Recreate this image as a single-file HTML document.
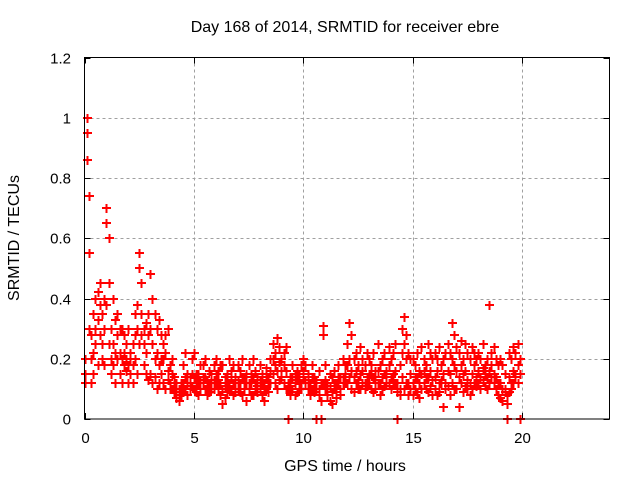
<!DOCTYPE html>
<html><head><meta charset="utf-8"><style>
body{margin:0;background:#fff}
svg text{font-family:"Liberation Sans",sans-serif;font-size:15px;fill:#000}
</style></head><body>
<svg id="chart" width="640" height="480" xmlns="http://www.w3.org/2000/svg">
<rect width="640" height="480" fill="#fff"/>
<text x="345" y="32" text-anchor="middle" style="font-size:16px">Day 168 of 2014, SRMTID for receiver ebre</text>
<text x="345" y="471" text-anchor="middle" style="font-size:16px">GPS time / hours</text>
<text transform="translate(19,238) rotate(-90)" text-anchor="middle" style="font-size:16px">SRMTID / TECUs</text>
<g id="grid"></g>
<g id="ticks"></g>
<g id="pts"></g>
<rect x="84.5" y="57.5" width="525" height="361.5" fill="none" stroke="#000" stroke-width="1"/>
</svg>
<script>
const xTicks=[0,5,10,15,20];
const yTicks=[0,0.2,0.4,0.6,0.8,1,1.2];
const yTickLabels=["0","0.2","0.4","0.6","0.8","1","1.2"];
const timeStep=0.1;
const srmtidA=[0.15,0.95,0.55,0.28,0.35,0.30,0.42,0.38,0.25,0.30,
0.70,0.60,0.30,0.25,0.33,0.28,0.22,0.30,0.18,0.25,
0.30,0.22,0.25,0.35,0.38,0.55,0.45,0.30,0.32,0.35,
0.48,0.40,0.35,0.30,0.33,0.28,0.25,0.22,0.30,0.18,
0.15,0.12,0.10,0.08,0.12,0.18,0.22,0.15,0.14,0.20,
0.22,0.15,0.12,0.18,0.14,0.20,0.13,0.16,0.12,0.18,
0.20,0.16,0.12,0.18,0.14,0.12,0.20,0.16,0.18,0.14,
0.18,0.16,0.20,0.14,0.12,0.18,0.15,0.20,0.16,0.14,
0.18,0.15,0.12,0.17,0.14,0.20,0.25,0.22,0.27,0.24,
0.20,0.22,0.24,0.0,0.14,0.18,0.15,0.16,0.12,0.18,
0.20,0.18,0.15,0.12,0.18,0.14,0.0,0.16,0.0,0.31,
0.18,0.12,0.15,0.14,0.16,0.12,0.18,0.14,0.20,0.18,
0.25,0.32,0.28,0.20,0.22,0.18,0.24,0.20,0.18,0.22,
0.20,0.18,0.22,0.16,0.25,0.18,0.20,0.22,0.16,0.24,
0.20,0.22,0.25,0.0,0.18,0.30,0.34,0.28,0.22,0.20,
0.20,0.18,0.22,0.16,0.24,0.20,0.18,0.25,0.22,0.20,
0.22,0.20,0.24,0.18,0.20,0.22,0.25,0.22,0.32,0.28,
0.24,0.22,0.26,0.20,0.25,0.22,0.20,0.24,0.22,0.20,
0.22,0.20,0.25,0.18,0.20,0.38,0.22,0.24,0.20,0.18,
0.20,0.18,0.15,0.0,0.22,0.20,0.24,0.22,0.25,0.0];
const srmtidB=[0.12,1.00,0.74,0.20,0.22,0.40,0.33,0.45,0.20,0.18,
0.65,0.45,0.20,0.40,0.22,0.35,0.15,0.20,0.28,0.16,
0.18,0.15,0.12,0.28,0.30,0.50,0.35,0.25,0.22,0.28,
0.30,0.25,0.20,0.22,0.18,0.15,0.20,0.28,0.16,0.12,
0.10,0.09,0.07,0.10,0.08,0.12,0.10,0.12,0.10,0.15,
0.10,0.12,0.08,0.10,0.12,0.10,0.08,0.12,0.15,0.10,
0.12,0.10,0.08,0.10,0.07,0.09,0.12,0.10,0.08,0.12,
0.10,0.12,0.08,0.10,0.06,0.10,0.12,0.08,0.10,0.09,
0.10,0.08,0.06,0.10,0.09,0.12,0.15,0.12,0.16,0.13,
0.14,0.12,0.16,0.10,0.08,0.10,0.12,0.09,0.10,0.12,
0.14,0.12,0.10,0.08,0.10,0.12,0.10,0.10,0.12,0.28,
0.10,0.08,0.06,0.09,0.10,0.07,0.12,0.10,0.14,0.12,
0.18,0.20,0.16,0.14,0.12,0.10,0.15,0.12,0.10,0.14,
0.12,0.15,0.14,0.10,0.16,0.12,0.14,0.15,0.12,0.18,
0.14,0.12,0.16,0.12,0.10,0.22,0.25,0.20,0.12,0.15,
0.12,0.10,0.14,0.12,0.15,0.12,0.10,0.14,0.16,0.13,
0.14,0.16,0.12,0.13,0.15,0.12,0.16,0.15,0.20,0.18,
0.16,0.14,0.18,0.15,0.16,0.13,0.12,0.15,0.18,0.14,
0.16,0.14,0.17,0.15,0.14,0.16,0.18,0.15,0.14,0.12,
0.12,0.10,0.09,0.08,0.14,0.12,0.16,0.15,0.18,0.20];
const srmtidC=[0.20,0.86,0.30,0.12,0.15,0.25,0.18,0.28,0.35,0.40,
0.38,0.25,0.15,0.18,0.12,0.20,0.30,0.12,0.22,0.20,
0.12,0.20,0.18,0.20,0.15,0.25,0.28,0.18,0.15,0.13,
0.15,0.12,0.14,0.10,0.12,0.20,0.12,0.10,0.13,0.10,
0.20,0.14,0.12,0.06,0.10,0.09,0.14,0.08,0.12,0.11,
0.14,0.09,0.15,0.13,0.18,0.14,0.11,0.09,0.10,0.13,
0.15,0.13,0.18,0.05,0.11,0.15,0.10,0.14,0.12,0.09,
0.13,0.09,0.14,0.12,0.15,0.12,0.08,0.14,0.12,0.11,
0.13,0.12,0.10,0.14,0.12,0.16,0.20,0.18,0.10,0.19,
0.16,0.18,0.10,0.12,0.11,0.14,0.08,0.13,0.15,0.10,
0.16,0.13,0.12,0.10,0.14,0.09,0.13,0.08,0.06,0.12,
0.13,0.10,0.11,0.05,0.12,0.09,0.14,0.08,0.12,0.15,
0.12,0.14,0.10,0.09,0.16,0.13,0.10,0.16,0.12,0.11,
0.15,0.10,0.09,0.13,0.12,0.08,0.10,0.11,0.14,0.12,
0.10,0.15,0.12,0.09,0.08,0.14,0.10,0.12,0.08,0.10,
0.08,0.14,0.09,0.07,0.10,0.16,0.14,0.09,0.11,0.08,
0.10,0.08,0.09,0.12,0.04,0.10,0.11,0.08,0.12,0.10,
0.10,0.04,0.12,0.09,0.11,0.10,0.08,0.10,0.12,0.11,
0.12,0.10,0.13,0.11,0.10,0.12,0.14,0.12,0.10,0.08,
0.07,0.06,0.10,0.05,0.09,0.10,0.12,0.14,0.12,0.15];
const NS="http://www.w3.org/2000/svg";
const X0=84.5,X1=609.5,Y0=419,Y1=57.5;
const sx=t=>X0+t/24*(X1-X0);
const sy=v=>Y0-v/1.2*(Y0-Y1);
function mk(tag,attrs,parent){const e=document.createElementNS(NS,tag);for(const k in attrs)e.setAttribute(k,attrs[k]);parent.appendChild(e);return e;}
const grid=document.getElementById('grid'),ticks=document.getElementById('ticks'),pts=document.getElementById('pts'),svg=document.getElementById('chart');
xTicks.forEach(t=>{const x=Math.round(sx(t))+0.5;
 if(t>0){const g=mk('line',{x1:x,x2:x,y1:Y1,y2:Y0,stroke:'#a0a0a0','stroke-dasharray':'3,3'},grid);
 
 }
 const tk=mk('path',{d:`M${x} ${Y0}v-6M${x} ${Y1}v6`,stroke:'#000'},ticks);
 
 
 const lb=mk('text',{x:x,y:443,'text-anchor':'middle'},svg);lb.textContent=String(t);
 
 });
yTicks.forEach((v,i)=>{const y=Math.round(sy(v))+0.5;
 if(v>0&&v<1.2){const g=mk('line',{x1:X0,x2:X1,y1:y,y2:y,stroke:'#a0a0a0','stroke-dasharray':'3,3'},grid);
 
 }
 const tk=mk('path',{d:`M${X0} ${y}h6M${X1} ${y}h-6`,stroke:'#000'},ticks);
 
 
 const lb=mk('text',{x:71,y:y+5,'text-anchor':'end'},svg);lb.textContent=yTickLabels[i];
 
 });
let d='';
[srmtidA,srmtidB,srmtidC].forEach(arr=>arr.forEach((v,i)=>{const x=Math.round(sx(i*timeStep)),y=Math.round(sy(v));d+=`M${x-4} ${y}h9M${x+0.5} ${y-4}v9`;}));
const p=mk('path',{d:d,stroke:'#ff0000','stroke-width':1.6,fill:'none','shape-rendering':'crispEdges'},pts);


</script>
</body></html>
